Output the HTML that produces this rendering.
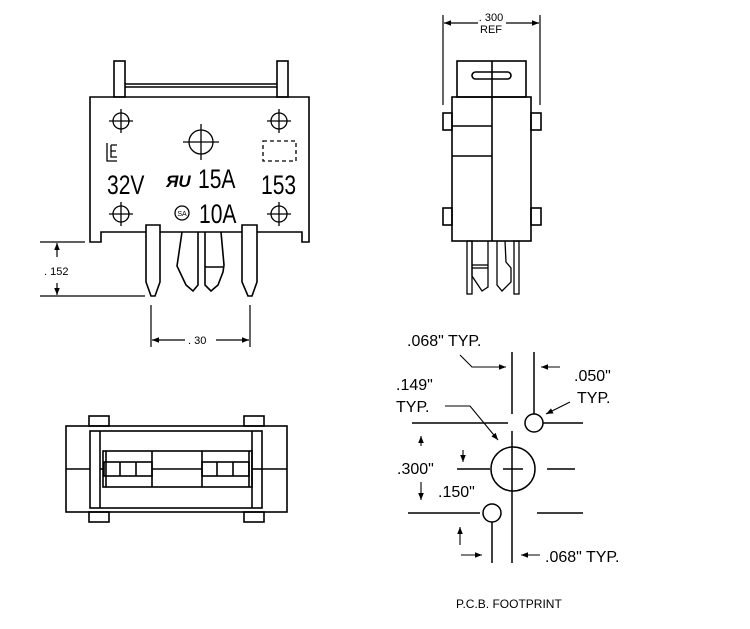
<!DOCTYPE html>
<html><head><meta charset="utf-8"><style>
html,body{margin:0;padding:0;background:#fff;}
svg{display:block;}
text{font-family:"Liberation Sans",sans-serif;fill:#000;}
</style></head><body>
<svg width="750" height="629" viewBox="0 0 750 629" xmlns="http://www.w3.org/2000/svg">
<defs>
<marker id="a" viewBox="0 0 10 10" refX="10" refY="5" markerWidth="9" markerHeight="7" orient="auto-start-reverse" markerUnits="userSpaceOnUse"><path d="M0,1 L10,5 L0,9 z" fill="#000"/></marker>
</defs>
<g fill="none" stroke="#000" stroke-width="1.6">
<rect x="114" y="61" width="11" height="36"/>
<rect x="277" y="61" width="11" height="36"/>
<line x1="125" y1="84" x2="277" y2="84"/><line x1="125" y1="87" x2="277" y2="87"/>
<path d="M90,242 V97 H309 V242 H302 V232 H101 V242 Z"/>
<g stroke-width="1.3">
<circle cx="121" cy="121" r="8"/><path d="M109,121h24M121,109v24"/>
<circle cx="279" cy="121" r="8"/><path d="M267,121h24M279,109v24"/>
<circle cx="121" cy="214" r="8"/><path d="M109,214h24M121,202v24"/>
<circle cx="279" cy="214" r="8"/><path d="M267,214h24M279,202v24"/>
<circle cx="201" cy="142" r="12"/><path d="M183,142h36M201,124v36"/>
<rect x="263" y="141" width="33" height="20" stroke-dasharray="4,3"/>
<path d="M107,143v18h10M111,145v12h6M111,145h6M111,151h5"/>
<circle cx="182" cy="213" r="7"/>
</g>
<path d="M146,225 H160 V282 L155,296 H151 L146,282 Z" fill="#fff"/>
<path d="M242,225 H257 V282 L252,296 H248 L242,282 Z" fill="#fff"/>
<path d="M182,232 L177,266 L186,285 L193,291 L198,285 V232"/>
<path d="M205,232 V285 L211,291 L218,285 L223,272 L224,265 L221,232"/>
<line x1="205" y1="267" x2="223" y2="267"/>
<g stroke-width="1.2">
<line x1="40" y1="242" x2="85" y2="242"/><line x1="40" y1="296" x2="145" y2="296"/>
<line x1="57" y1="257" x2="57" y2="243" marker-end="url(#a)"/>
<line x1="57" y1="283" x2="57" y2="295" marker-end="url(#a)"/>
<line x1="151" y1="305" x2="151" y2="347"/><line x1="250" y1="305" x2="250" y2="347"/>
<line x1="185" y1="340" x2="152" y2="340" marker-end="url(#a)"/>
<line x1="216" y1="340" x2="249" y2="340" marker-end="url(#a)"/>
</g>
<g stroke-width="1.2">
<line x1="443" y1="15" x2="443" y2="105"/><line x1="540" y1="15" x2="540" y2="105"/>
<line x1="478" y1="23" x2="444" y2="23" marker-end="url(#a)"/>
<line x1="506" y1="23" x2="539" y2="23" marker-end="url(#a)"/>
</g>
<rect x="457" y="61" width="69" height="36"/>
<rect x="472" y="72" width="39" height="7" rx="3.5"/>
<rect x="452" y="97" width="79" height="144"/>
<line x1="492" y1="61" x2="492" y2="241"/>
<line x1="452" y1="126" x2="492" y2="126"/><line x1="452" y1="156" x2="492" y2="156"/>
<rect x="443" y="113" width="9" height="17"/><rect x="443" y="208" width="9" height="17"/>
<rect x="531" y="113" width="10" height="17"/><rect x="531" y="208" width="10" height="17"/>
<g stroke-width="1.3">
<rect x="467" y="241" width="5" height="53"/><rect x="514" y="241" width="5" height="53"/>
<path d="M472,241 V276 L482,291 L488,287 V241"/><line x1="472" y1="265" x2="488" y2="265"/><line x1="472" y1="268" x2="488" y2="268"/>
<path d="M497,241 V285 L502,291 L511,282 L511,268 L506,262 L505,241"/>
</g>
<rect x="89" y="416" width="20" height="10"/><rect x="244" y="416" width="20" height="10"/>
<rect x="89" y="512" width="20" height="10"/><rect x="244" y="512" width="20" height="10"/>
<rect x="66" y="426" width="221" height="86"/>
<rect x="90" y="431" width="172" height="77"/>
<line x1="100" y1="431" x2="100" y2="508"/><line x1="252" y1="431" x2="252" y2="508"/>
<line x1="66" y1="469" x2="90" y2="469"/><line x1="262" y1="469" x2="287" y2="469"/>
<rect x="103" y="451" width="149" height="36"/>
<line x1="152" y1="451" x2="152" y2="487"/><line x1="202" y1="451" x2="202" y2="487"/>
<line x1="152" y1="469" x2="202" y2="469"/>
<line x1="100" y1="469" x2="103" y2="469"/><line x1="252" y1="469" x2="262" y2="469"/>
<rect x="104" y="462" width="48" height="14"/><line x1="120" y1="462" x2="120" y2="476"/><line x1="136" y1="462" x2="136" y2="476"/>
<rect x="202" y="462" width="47" height="14"/><line x1="217" y1="462" x2="217" y2="476"/><line x1="233" y1="462" x2="233" y2="476"/>
<line x1="106" y1="451" x2="106" y2="487"/><line x1="249" y1="451" x2="249" y2="487"/>
<g stroke-width="1.5">
<line x1="512" y1="352" x2="512" y2="414"/>
<line x1="512" y1="431" x2="512" y2="563"/>
<line x1="534" y1="352" x2="534" y2="414"/>
<line x1="492" y1="522" x2="492" y2="563"/>
<circle cx="513" cy="469" r="22"/>
<circle cx="534" cy="423" r="9"/>
<circle cx="492" cy="513" r="9"/>
<path d="M412,423h96M543,423h40M457,469h33M547,469h28M408,513h72M537,513h46M503,469h20"/>
</g>
<g stroke-width="1.1">
<path d="M460,355 L472,367 L506,367" marker-end="url(#a)"/>
<line x1="560" y1="367" x2="541" y2="367" marker-end="url(#a)"/>
<line x1="570" y1="402" x2="546" y2="414" marker-end="url(#a)"/>
<path d="M445,406 L470,406 L498,440" marker-end="url(#a)"/>
<line x1="421" y1="446" x2="421" y2="436" marker-end="url(#a)"/>
<line x1="421" y1="482" x2="421" y2="500" marker-end="url(#a)"/>
<line x1="463" y1="450" x2="463" y2="462" marker-end="url(#a)"/>
<line x1="460" y1="545" x2="460" y2="527" marker-end="url(#a)"/>
<line x1="461" y1="555" x2="482" y2="555" marker-end="url(#a)"/>
<line x1="540" y1="555" x2="521" y2="555" marker-end="url(#a)"/>
</g>
</g>
<text x="44" y="275" font-size="11">. 152</text>
<text x="188" y="344" font-size="11">. 30</text>
<text x="491" y="21" font-size="11" text-anchor="middle">. 300</text>
<text x="491" y="33" font-size="11" text-anchor="middle">REF</text>
<g transform="translate(107,194) scale(0.78,1)"><text font-size="27">32V</text></g>
<g transform="translate(198,188) scale(0.78,1)"><text font-size="27">15A</text></g>
<g transform="translate(261,194) scale(0.78,1)"><text font-size="27">153</text></g>
<g transform="translate(199,223) scale(0.78,1)"><text font-size="27">10A</text></g>
<text x="166" y="187" font-size="17" font-weight="bold" font-style="italic">ЯU</text>
<text x="182" y="216" font-size="7" text-anchor="middle">SA</text>
<text x="407" y="346" font-size="16">.068" TYP.</text>
<text x="574" y="381" font-size="16">.050"</text>
<text x="577" y="403" font-size="16">TYP.</text>
<text x="396" y="390" font-size="16">.149"</text>
<text x="396" y="412" font-size="16">TYP.</text>
<text x="397" y="474" font-size="16">.300"</text>
<text x="438" y="497" font-size="16">.150"</text>
<text x="545" y="562" font-size="16">.068" TYP.</text>
<text x="456" y="608" font-size="12">P.C.B. FOOTPRINT</text>
</svg>
</body></html>
